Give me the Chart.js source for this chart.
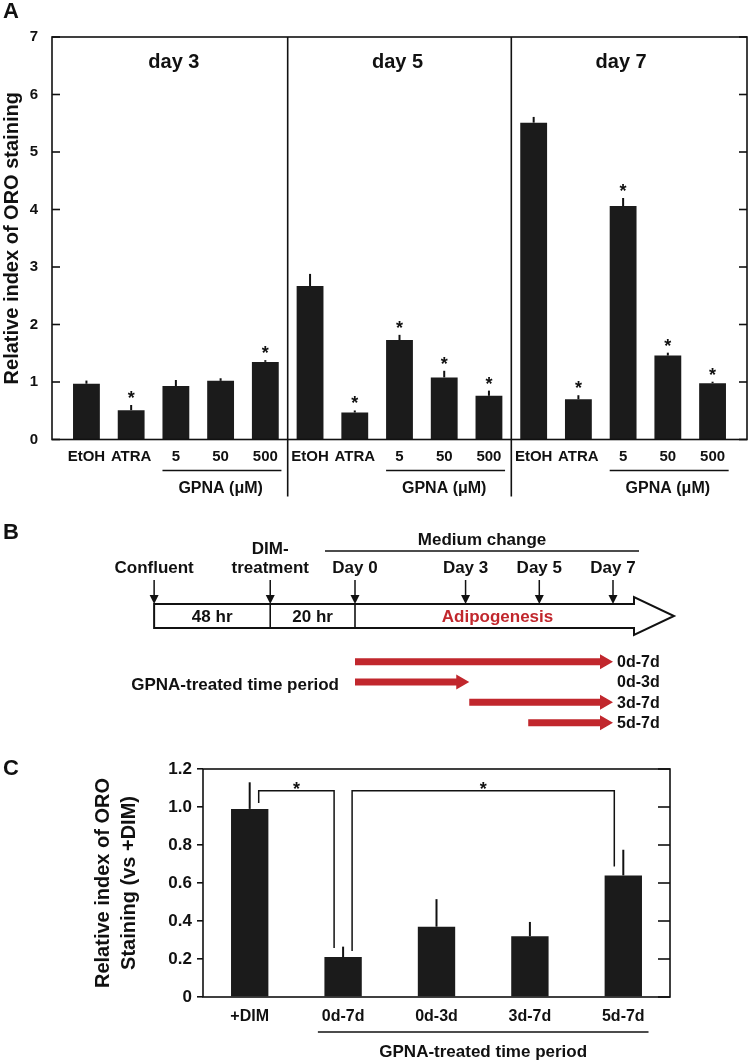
<!DOCTYPE html>
<html>
<head>
<meta charset="utf-8">
<title>ORO staining</title>
<script src="https://cdn.jsdelivr.net/npm/chart.js@4.4.1/dist/chart.umd.min.js"></script>
<style>
  html, body { margin: 0; padding: 0; background: #fff; }
  #page { position: relative; width: 749px; height: 1062px; overflow: hidden; }
  canvas { position: absolute; left: 0; }
  #chartA { top: 0; }
  #chartB { top: 505px; }
  #chartC { top: 740px; }
</style>
</head>
<body>
<div id="page">
  <canvas id="chartA" width="749" height="505"></canvas>
  <canvas id="chartB" width="749" height="235"></canvas>
  <canvas id="chartC" width="749" height="322"></canvas>
</div>
<script>
/* ---- panel A: ORO staining by day ---- */
const dayGroups = ["day 3", "day 5", "day 7"];
const treatments = ["EtOH", "ATRA", "5", "50", "500"];
const oroDay3 = [0.97, 0.51, 0.93, 1.02, 1.35];
const oroDay5 = [2.67, 0.47, 1.73, 1.08, 0.76];
const oroDay7 = [5.51, 0.70, 4.06, 1.46, 0.98];
const errDay3 = [0.055, 0.09, 0.105, 0.045, 0.03];
const errDay5 = [0.21, 0.035, 0.09, 0.115, 0.09];
const errDay7 = [0.10, 0.07, 0.14, 0.05, 0.025];
const sigDay3 = [false, true, false, false, true];
const sigDay5 = [false, true, true, true, true];
const sigDay7 = [false, true, true, true, true];
const groupLabelA = "GPNA (\u03bcM)";

/* ---- panel B: time course schematic ---- */
const stageLabels = ["Confluent", "DIM-\ntreatment", "Day 0", "Day 3", "Day 5", "Day 7"];
const stageDays = [-5.45, -2.3, 0, 3, 5, 7];   // schematic axis, pre-culture compressed
const segmentLabels = ["48 hr", "20 hr", "Adipogenesis"];
const periodLabels = ["0d-7d", "0d-3d", "3d-7d", "5d-7d"];
const periodStart = [0, 0, 3.1, 4.7];
const periodEnd = [7, 3.1, 7, 7];

/* ---- panel C: relative ORO vs +DIM ---- */
const periodCats = ["+DIM", "0d-7d", "0d-3d", "3d-7d", "5d-7d"];
const oroRel = [0.99, 0.21, 0.37, 0.32, 0.64];
const oroRelErr = [0.14, 0.055, 0.145, 0.075, 0.135];
const sigPairs = [[0, 1], [1, 4]];
const bracketLevel = 1.085;

const FONT = "'Liberation Sans', Arial, Helvetica, sans-serif";
const INK = "#111111";
const BAR = "#1b1b1b";
const RED = "#c1272d";

Chart.defaults.font.family = FONT;
Chart.defaults.color = INK;

const bold = (size) => `bold ${size}px ${FONT}`;

function line(ctx, x1, y1, x2, y2) {
  ctx.beginPath();
  ctx.moveTo(x1, y1);
  ctx.lineTo(x2, y2);
  ctx.stroke();
}

function text(ctx, str, x, y, size, align, color) {
  ctx.font = bold(size);
  ctx.fillStyle = color || INK;
  ctx.textAlign = align || "center";
  ctx.textBaseline = "middle";
  ctx.fillText(str, x, y);
}

function star(ctx, x, yBase, size) {
  ctx.font = bold(size);
  ctx.fillStyle = INK;
  ctx.textAlign = "center";
  ctx.textBaseline = "alphabetic";
  ctx.fillText("*", x, yBase);
}

/* ===================== Panel A ===================== */
const oroA = oroDay3.concat(oroDay5, oroDay7);
const errA = errDay3.concat(errDay5, errDay7);
const sigA = sigDay3.concat(sigDay5, sigDay7);
const labelsA = treatments.concat(treatments, treatments);
const perGroup = treatments.length;

const panelAPlugin = {
  id: "panelA",
  afterDatasetsDraw(chart) {
    const { ctx, chartArea: a, scales: { x, y } } = chart;
    ctx.save();
    ctx.strokeStyle = INK;

    // error bars (upper only)
    ctx.lineWidth = 2;
    oroA.forEach((v, i) => {
      const px = x.getPixelForValue(i);
      line(ctx, px, y.getPixelForValue(v), px, y.getPixelForValue(v + errA[i]));
    });

    // frame + inward ticks
    ctx.lineWidth = 1.6;
    ctx.strokeRect(a.left, a.top, a.right - a.left, a.bottom - a.top);
    y.ticks.forEach((t) => {
      const py = y.getPixelForValue(t.value);
      line(ctx, a.left, py, a.left + 8, py);
      line(ctx, a.right - 8, py, a.right, py);
    });

    // dividers between days, running down through the labels
    for (let g = 1; g < dayGroups.length; g++) {
      const px = x.getPixelForValue(g * perGroup - 0.5);
      line(ctx, px, a.top, px, a.bottom + 57);
    }

    // significance stars
    oroA.forEach((v, i) => {
      if (sigA[i]) star(ctx, x.getPixelForValue(i), y.getPixelForValue(v + errA[i]) - 1, 18);
    });

    // day titles, GPNA group lines
    dayGroups.forEach((d, g) => {
      const base = g * perGroup;
      text(ctx, d, x.getPixelForValue(base + 2) - 2, a.top + 25, 20);
      ctx.lineWidth = 1.4;
      line(ctx, x.getPixelForValue(base + 2 - 0.3), a.bottom + 31, x.getPixelForValue(base + 4 + 0.36), a.bottom + 31);
      text(ctx, groupLabelA, x.getPixelForValue(base + 3), a.bottom + 49, 16);
    });

    text(ctx, "A", 3, 12, 22, "left");
    ctx.restore();
  }
};

new Chart(document.getElementById("chartA"), {
  type: "bar",
  data: {
    datasets: [{
      data: oroA.map((v, i) => ({ x: i, y: v })),
      backgroundColor: BAR,
      borderWidth: 0,
      barPercentage: 0.6,
      categoryPercentage: 1
    }]
  },
  options: {
    responsive: false,
    animation: false,
    events: [],
    layout: { padding: { top: 37, right: 2, left: 0, bottom: 0 } },
    plugins: { legend: { display: false }, tooltip: { enabled: false } },
    scales: {
      x: {
        type: "linear",
        offset: false,
        min: -0.77,
        max: 14.77,
        grid: { display: false, drawTicks: false },
        border: { display: false },
        ticks: {
          stepSize: 1,
          includeBounds: false,
          autoSkip: false,
          maxRotation: 0,
          padding: 8,
          color: INK,
          font: { size: 15, weight: "bold" },
          callback: (v) => labelsA[v]
        },
        afterFit: (s) => { s.height = 65.5; }
      },
      y: {
        min: 0,
        max: 7,
        grid: { display: false, drawTicks: false },
        border: { display: false },
        ticks: { stepSize: 1, padding: 14, color: INK, font: { size: 15, weight: "bold" } },
        title: {
          display: true,
          text: "Relative index of ORO staining",
          color: INK,
          font: { size: 20, weight: "bold" },
          padding: { top: 0, bottom: 0 }
        },
        afterFit: (s) => { s.width = 52; }
      }
    }
  },
  plugins: [panelAPlugin]
});

/* ===================== Panel B ===================== */
const panelBPlugin = {
  id: "panelB",
  afterDatasetsDraw(chart) {
    const { ctx, chartArea: a, scales: { x } } = chart;
    const px = (d) => x.getPixelForValue(d);
    ctx.save();
    ctx.strokeStyle = INK;
    ctx.fillStyle = INK;

    // medium change bar
    ctx.lineWidth = 1.6;
    const mcL = px(0) - 30, mcR = a.right + 26;
    line(ctx, mcL, 46, mcR, 46);
    text(ctx, "Medium change", (mcL + mcR) / 2, 35, 17);

    // timeline block arrow
    const boxL = px(stageDays[0]), bodyR = a.right + 21, tip = a.right + 61;
    const bT = 99, bB = 123, mid = 111;
    ctx.lineWidth = 2;
    ctx.beginPath();
    ctx.moveTo(boxL, bT);
    ctx.lineTo(bodyR, bT);
    ctx.lineTo(bodyR, bT - 7);
    ctx.lineTo(tip, mid);
    ctx.lineTo(bodyR, bB + 7);
    ctx.lineTo(bodyR, bB);
    ctx.lineTo(boxL, bB);
    ctx.closePath();
    ctx.fillStyle = "#fff";
    ctx.fill();
    ctx.stroke();
    ctx.lineWidth = 1.6;
    line(ctx, px(stageDays[1]), bT, px(stageDays[1]), bB);
    line(ctx, px(stageDays[2]), bT, px(stageDays[2]), bB);

    const segEdges = [px(stageDays[0]), px(stageDays[1]), px(stageDays[2]), bodyR];
    segmentLabels.forEach((s, i) => {
      text(ctx, s, (segEdges[i] + segEdges[i + 1]) / 2 + (i === 2 ? 3 : 0), mid + 1, 17, "center", i === 2 ? RED : INK);
    });

    // stage markers with down arrows
    stageLabels.forEach((lab, i) => {
      const sx = px(stageDays[i]);
      const lines = lab.split("\n");
      lines.forEach((ln, k) => text(ctx, ln, sx, 63 - (lines.length - 1 - k) * 19, 17));
      ctx.strokeStyle = INK;
      ctx.fillStyle = INK;
      ctx.lineWidth = 1.5;
      line(ctx, sx, 75, sx, bT - 8);
      ctx.beginPath();
      ctx.moveTo(sx - 4.5, bT - 9);
      ctx.lineTo(sx + 4.5, bT - 9);
      ctx.lineTo(sx, bT);
      ctx.closePath();
      ctx.fill();
    });

    // GPNA treatment periods (red arrows from the floating bars)
    const meta = chart.getDatasetMeta(0);
    meta.data.forEach((bar, i) => {
      const { x: end, base, y: cy, height } = bar.getProps(["x", "base", "y", "height"], true);
      const h = height / 2, headLen = 13, headH = 7.5;
      ctx.fillStyle = RED;
      ctx.beginPath();
      ctx.moveTo(base, cy - h);
      ctx.lineTo(end - headLen, cy - h);
      ctx.lineTo(end - headLen, cy - headH);
      ctx.lineTo(end, cy);
      ctx.lineTo(end - headLen, cy + headH);
      ctx.lineTo(end - headLen, cy + h);
      ctx.lineTo(base, cy + h);
      ctx.closePath();
      ctx.fill();
      text(ctx, periodLabels[i], a.right + 4, cy + 1, 16, "left");
    });

    const row1 = meta.data[1].y;
    text(ctx, "GPNA-treated time period", a.left - 16, row1 + 3, 17, "right");
    text(ctx, "B", 3, 28, 22, "left");
    ctx.restore();
  }
};

new Chart(document.getElementById("chartB"), {
  type: "bar",
  data: {
    labels: periodLabels,
    datasets: [{
      data: periodStart.map((s, i) => [s, periodEnd[i]]),
      backgroundColor: "rgba(0,0,0,0)",
      borderWidth: 0,
      barThickness: 7
    }]
  },
  options: {
    indexAxis: "y",
    responsive: false,
    animation: false,
    events: [],
    layout: { padding: { left: 355, right: 136, top: 146.5, bottom: 7.2 } },
    plugins: { legend: { display: false }, tooltip: { enabled: false } },
    scales: {
      x: { type: "linear", min: 0, max: 7, display: false },
      y: { display: false }
    }
  },
  plugins: [panelBPlugin]
});

/* ===================== Panel C ===================== */
const panelCPlugin = {
  id: "panelC",
  afterDatasetsDraw(chart) {
    const { ctx, chartArea: a, scales: { x, y } } = chart;
    ctx.save();
    ctx.strokeStyle = INK;

    ctx.lineWidth = 2;
    oroRel.forEach((v, i) => {
      const px = x.getPixelForValue(i);
      line(ctx, px, y.getPixelForValue(v), px, y.getPixelForValue(v + oroRelErr[i]));
    });

    ctx.lineWidth = 1.6;
    ctx.strokeRect(a.left, a.top, a.right - a.left, a.bottom - a.top);
    y.ticks.forEach((t) => {
      const py = y.getPixelForValue(t.value);
      line(ctx, a.right - 12, py, a.right, py);
    });

    // significance brackets
    ctx.lineWidth = 1.5;
    const by = y.getPixelForValue(bracketLevel);
    sigPairs.forEach(([i, j]) => {
      const lx = x.getPixelForValue(i) + 9;
      const rx = x.getPixelForValue(j) - 9;
      ctx.beginPath();
      ctx.moveTo(lx, y.getPixelForValue(oroRel[i]) - 6);
      ctx.lineTo(lx, by);
      ctx.lineTo(rx, by);
      ctx.lineTo(rx, y.getPixelForValue(oroRel[j]) - 9);
      ctx.stroke();
      star(ctx, (lx + rx) / 2, by + 4, 18);
    });

    // group line for GPNA-treated periods
    const w = x.getPixelForValue(1) - x.getPixelForValue(0);
    const gl = x.getPixelForValue(1) - 0.27 * w;
    const gr = x.getPixelForValue(periodCats.length - 1) + 0.27 * w;
    ctx.lineWidth = 1.4;
    line(ctx, gl, a.bottom + 35, gr, a.bottom + 35);
    text(ctx, "GPNA-treated time period", (x.getPixelForValue(1) + x.getPixelForValue(periodCats.length - 1)) / 2, a.bottom + 55, 17);

    text(ctx, "C", 3, 29, 22, "left");
    ctx.restore();
  }
};

new Chart(document.getElementById("chartC"), {
  type: "bar",
  data: {
    labels: periodCats,
    datasets: [{
      data: oroRel,
      backgroundColor: BAR,
      borderWidth: 0,
      barPercentage: 0.4,
      categoryPercentage: 1
    }]
  },
  options: {
    responsive: false,
    animation: false,
    events: [],
    layout: { padding: { top: 29, right: 79, left: 0, bottom: 0 } },
    plugins: { legend: { display: false }, tooltip: { enabled: false } },
    scales: {
      x: {
        grid: { display: false, drawTicks: false },
        border: { display: false },
        ticks: { padding: 10, color: INK, font: { size: 16, weight: "bold" } },
        afterFit: (s) => { s.height = 65; }
      },
      y: {
        min: 0,
        max: 1.2,
        grid: { display: true, drawOnChartArea: false, tickLength: 6, color: INK, lineWidth: 1.6 },
        border: { display: false },
        ticks: {
          stepSize: 0.2,
          padding: 5,
          color: INK,
          font: { size: 17, weight: "bold" },
          callback: (v) => (v === 0 ? "0" : v.toFixed(1))
        },
        title: {
          display: true,
          text: ["Relative index of ORO", "Staining (vs +DIM)"],
          color: INK,
          font: { size: 20, weight: "bold", lineHeight: 1.3 },
          padding: { top: 90, bottom: 0 }
        },
        afterFit: (s) => { s.width = 203; }
      }
    }
  },
  plugins: [panelCPlugin]
});
</script>
</body>
</html>
